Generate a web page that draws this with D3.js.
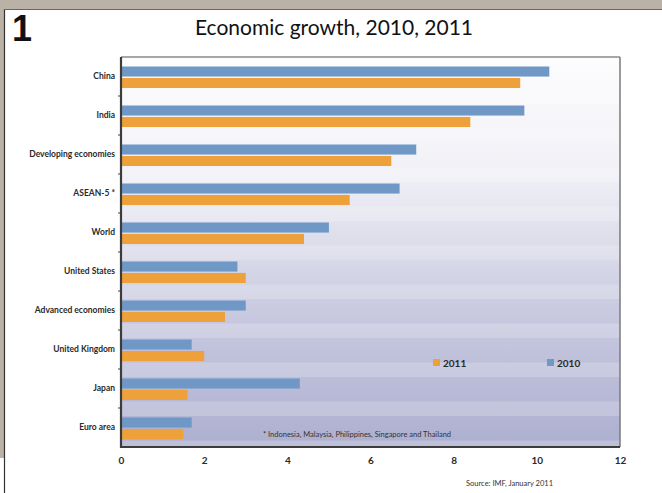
<!DOCTYPE html>
<html><head><meta charset="utf-8">
<script src="https://cdn.jsdelivr.net/npm/d3@7"></script>
<style>html,body{margin:0;padding:0;background:#fff;}svg{display:block;}</style>
</head><body>
<script>
const categories = ["China","India","Developing economies","ASEAN-5 *","World","United States","Advanced economies","United Kingdom","Japan","Euro area"];
const series = ["2010","2011"];
const values2010 = [10.3, 9.7, 7.1, 6.7, 5.0, 2.8, 3.0, 1.7, 4.3, 1.7];
const values2011 = [9.6, 8.4, 6.5, 5.5, 4.4, 3.0, 2.5, 2.0, 1.6, 1.5];
const xTicks = [0, 2, 4, 6, 8, 10, 12];
const colors = {"2010": "#6f98c7", "2011": "#eea03b"};

const W = 662, H = 493;
const svg = d3.select("body").append("svg").attr("width", W).attr("height", H);

// outer frame
svg.append("rect").attr("x",0).attr("y",0).attr("width",W).attr("height",H).attr("fill","#fff");
svg.append("rect").attr("x",0).attr("y",0).attr("width",W).attr("height",9).attr("fill","#bab1a7");
svg.append("rect").attr("x",0).attr("y",0).attr("width",4).attr("height",458).attr("fill","#bab1a7");
svg.append("line").attr("x1",4.5).attr("x2",4.5).attr("y1",9).attr("y2",H).attr("stroke","#333").attr("stroke-width",1.2);
svg.append("line").attr("x1",4).attr("x2",W).attr("y1",9.5).attr("y2",9.5).attr("stroke","#666").attr("stroke-width",1);

const L = 121, R = 620, T = 57, B = 447;
const x = d3.scaleLinear().domain([0,12]).range([L,R]);
const y = d3.scaleBand().domain(categories).range([T,B]);
const ys = d3.scaleBand().domain(series).range([9.5, 31]).paddingInner(0.12);

const defs = svg.append("defs");
const g = defs.append("linearGradient").attr("id","bg").attr("x1",0).attr("x2",0).attr("y1",0).attr("y2",1);
g.append("stop").attr("offset","0%").attr("stop-color","#fdfdfe");
g.append("stop").attr("offset","30%").attr("stop-color","#f0f0f6");
g.append("stop").attr("offset","65%").attr("stop-color","#c9cae0");
g.append("stop").attr("offset","100%").attr("stop-color","#adafd0");
svg.append("rect").attr("x",L).attr("y",T).attr("width",R-L).attr("height",B-T).attr("fill","url(#bg)");

// light stripes between groups
const stripes = svg.append("g");
categories.forEach(c => {
  stripes.append("rect").attr("x",L).attr("y",y(c)).attr("width",R-L).attr("height",ys("2010")-1.5)
    .attr("fill","#fff").attr("opacity",0.2);
  stripes.append("rect").attr("x",L).attr("y",y(c)+ys("2011")+ys.bandwidth()+1.5).attr("width",R-L)
    .attr("height",y.bandwidth()-ys("2011")-ys.bandwidth()-1.5).attr("fill","#fff").attr("opacity",0.2);
});

// frame lines
svg.append("line").attr("x1",L).attr("x2",R).attr("y1",T).attr("y2",T).attr("stroke","#8a8a8a").attr("stroke-width",1.5);
svg.append("line").attr("x1",R).attr("x2",R).attr("y1",T).attr("y2",B).attr("stroke","#7a7a7a").attr("stroke-width",1.5);

// bars
const data = [];
categories.forEach((c,i) => {
  data.push({cat:c, s:"2010", v:values2010[i]});
  data.push({cat:c, s:"2011", v:values2011[i]});
});
svg.append("g").selectAll("rect").data(data).join("rect")
  .attr("x", x(0))
  .attr("y", d => y(d.cat) + ys(d.s))
  .attr("width", d => x(d.v) - x(0))
  .attr("height", ys.bandwidth())
  .attr("fill", d => colors[d.s]);

// axes
const yAxis = d3.axisLeft(y).tickSize(0).tickPadding(6);
const ya = svg.append("g").attr("transform",`translate(${L},0)`).call(yAxis);
ya.select(".domain").remove();
ya.selectAll("text").attr("font-family","Lato, 'Open Sans', sans-serif").attr("font-size",8.5).attr("font-weight",700).attr("fill","#2a2a2a");
// band boundary ticks
svg.append("g").selectAll("line").data(categories.slice(1)).join("line")
  .attr("x1",L-3).attr("x2",L).attr("y1",d=>y(d)).attr("y2",d=>y(d)).attr("stroke","#444").attr("stroke-width",1);
svg.append("line").attr("x1",L).attr("x2",L).attr("y1",T).attr("y2",B+1).attr("stroke","#3c3c3c").attr("stroke-width",2.2);

const xAxis = d3.axisBottom(x).tickValues(xTicks).tickSize(0).tickPadding(10).tickFormat(d3.format("d"));
const xa = svg.append("g").attr("transform",`translate(0,${B})`).call(xAxis);
xa.select(".domain").remove();
xa.selectAll("text").attr("font-family","Lato, 'Open Sans', sans-serif").attr("font-size",10).attr("font-weight",700).attr("fill","#2a2a2a");
svg.append("line").attr("x1",L).attr("x2",R).attr("y1",B).attr("y2",B).attr("stroke","#3c3c3c").attr("stroke-width",2);

// legend
const legend = [{s:"2011", x:433}, {s:"2010", x:547}];
legend.forEach(l => {
  svg.append("rect").attr("x",l.x).attr("y",359).attr("width",7).attr("height",7).attr("fill",colors[l.s]);
  svg.append("text").attr("x",l.x+10).attr("y",366.5).text(l.s)
    .attr("font-family","Lato, 'Open Sans', sans-serif").attr("font-size",10).attr("font-weight",700).attr("fill","#2a2a2a");
});

// footnote
svg.append("text").attr("x",357).attr("y",437).attr("text-anchor","middle")
  .text("* Indonesia, Malaysia, Philippines, Singapore and Thailand")
  .attr("font-family","Lato, 'Open Sans', sans-serif").attr("font-size",7.5).attr("fill","#333");

// source
svg.append("text").attr("x",553).attr("y",486).attr("text-anchor","end")
  .text("Source: IMF, January 2011")
  .attr("font-family","Lato, 'Open Sans', sans-serif").attr("font-size",7.5).attr("fill","#333");

// title
svg.append("text").attr("x",334).attr("y",35).attr("text-anchor","middle")
  .text("Economic growth, 2010, 2011")
  .attr("font-family","Lato, 'Open Sans', sans-serif").attr("font-size",21).attr("fill","#111");
svg.append("text").attr("x",12).attr("y",41).text("1")
  .attr("font-family","'Liberation Sans', Arial, sans-serif").attr("font-size",36).attr("font-weight",700).attr("fill","#111");
</script>
</body></html>
